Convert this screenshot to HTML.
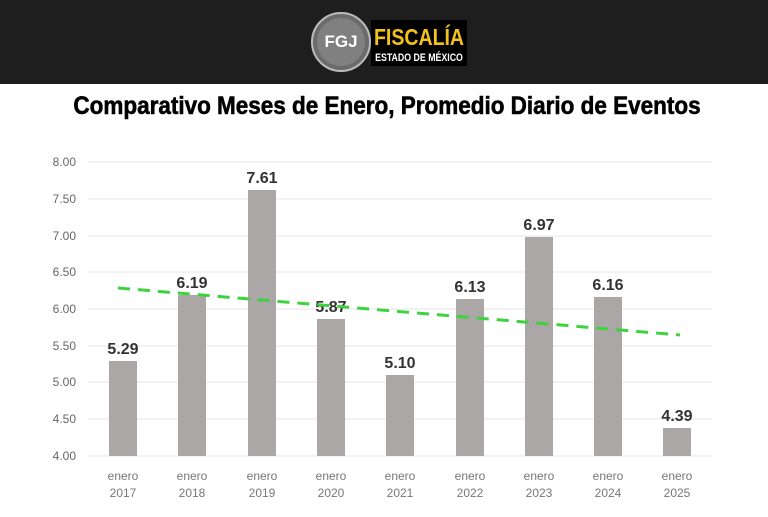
<!DOCTYPE html>
<html><head><meta charset="utf-8"><style>
body{margin:0;width:768px;height:512px;background:#fff;overflow:hidden;font-family:"Liberation Sans",sans-serif}
</style></head><body>
<svg width="768" height="512" xmlns="http://www.w3.org/2000/svg">
<rect x="0" y="0" width="768" height="84" fill="#1e1e1e"/>
<circle cx="341" cy="42" r="29" fill="#6b6b6b" stroke="#bbb" stroke-width="2"/>
<circle cx="341" cy="42" r="24" fill="#808080"/>
<text x="341" y="47" text-anchor="middle" font-size="17" font-weight="bold" fill="#fff">FGJ</text>
<rect x="371" y="20" width="96" height="46" fill="#000"/>
<text x="419" y="45" text-anchor="middle" font-size="23" font-weight="bold" fill="#f2c21b" transform="translate(419 0) scale(0.85 1) translate(-419 0)">FISCALÍA</text>
<text x="419" y="61" text-anchor="middle" font-size="11" font-weight="bold" fill="#fff" transform="translate(419 0) scale(0.8 1) translate(-419 0)">ESTADO DE MÉXICO</text>
<text x="387" y="114" text-anchor="middle" font-size="25" font-weight="bold" fill="#000" stroke="#000" stroke-width="0.6" transform="translate(387 0) scale(0.9 1) translate(-387 0)">Comparativo Meses de Enero, Promedio Diario de Eventos</text>
<g stroke="#e6e6e6" stroke-width="1">
<line x1="88" x2="712" y1="162" y2="162"/><line x1="88" x2="712" y1="199" y2="199"/>
<line x1="88" x2="712" y1="236" y2="236"/><line x1="88" x2="712" y1="272" y2="272"/>
<line x1="88" x2="712" y1="309" y2="309"/><line x1="88" x2="712" y1="346" y2="346"/>
<line x1="88" x2="712" y1="382" y2="382"/><line x1="88" x2="712" y1="419" y2="419"/>
<line x1="88" x2="712" y1="456" y2="456"/>
</g>
<g font-size="12" fill="#666" text-anchor="end">
<text x="76" y="166">8.00</text><text x="76" y="203">7.50</text><text x="76" y="240">7.00</text>
<text x="76" y="276">6.50</text><text x="76" y="313">6.00</text><text x="76" y="350">5.50</text>
<text x="76" y="386">5.00</text><text x="76" y="423">4.50</text><text x="76" y="460">4.00</text>
</g>
<g fill="#aba7a6">
<rect x="109" y="361" width="28" height="95"/>
<rect x="178" y="295" width="28" height="161"/>
<rect x="248" y="190" width="28" height="266"/>
<rect x="317" y="319" width="28" height="137"/>
<rect x="386" y="375" width="28" height="81"/>
<rect x="456" y="299" width="28" height="157"/>
<rect x="525" y="237" width="28" height="219"/>
<rect x="594" y="297" width="28" height="159"/>
<rect x="663" y="428" width="28" height="28"/>
</g>
<g font-size="16" font-weight="bold" fill="#333" text-anchor="middle">
<text x="123" y="354">5.29</text><text x="192" y="288">6.19</text><text x="262" y="183">7.61</text>
<text x="331" y="312">5.87</text><text x="400" y="368">5.10</text><text x="470" y="292">6.13</text>
<text x="539" y="230">6.97</text><text x="608" y="290">6.16</text><text x="677" y="421">4.39</text>
</g>
<line x1="118" y1="288" x2="680" y2="335" stroke="#3fd23f" stroke-width="3" stroke-dasharray="12 8"/>
<g font-size="12" fill="#777" text-anchor="middle">
<text x="123" y="480">enero</text><text x="123" y="497">2017</text>
<text x="192" y="480">enero</text><text x="192" y="497">2018</text>
<text x="262" y="480">enero</text><text x="262" y="497">2019</text>
<text x="331" y="480">enero</text><text x="331" y="497">2020</text>
<text x="400" y="480">enero</text><text x="400" y="497">2021</text>
<text x="470" y="480">enero</text><text x="470" y="497">2022</text>
<text x="539" y="480">enero</text><text x="539" y="497">2023</text>
<text x="608" y="480">enero</text><text x="608" y="497">2024</text>
<text x="677" y="480">enero</text><text x="677" y="497">2025</text>
</g>
</svg>
</body></html>
